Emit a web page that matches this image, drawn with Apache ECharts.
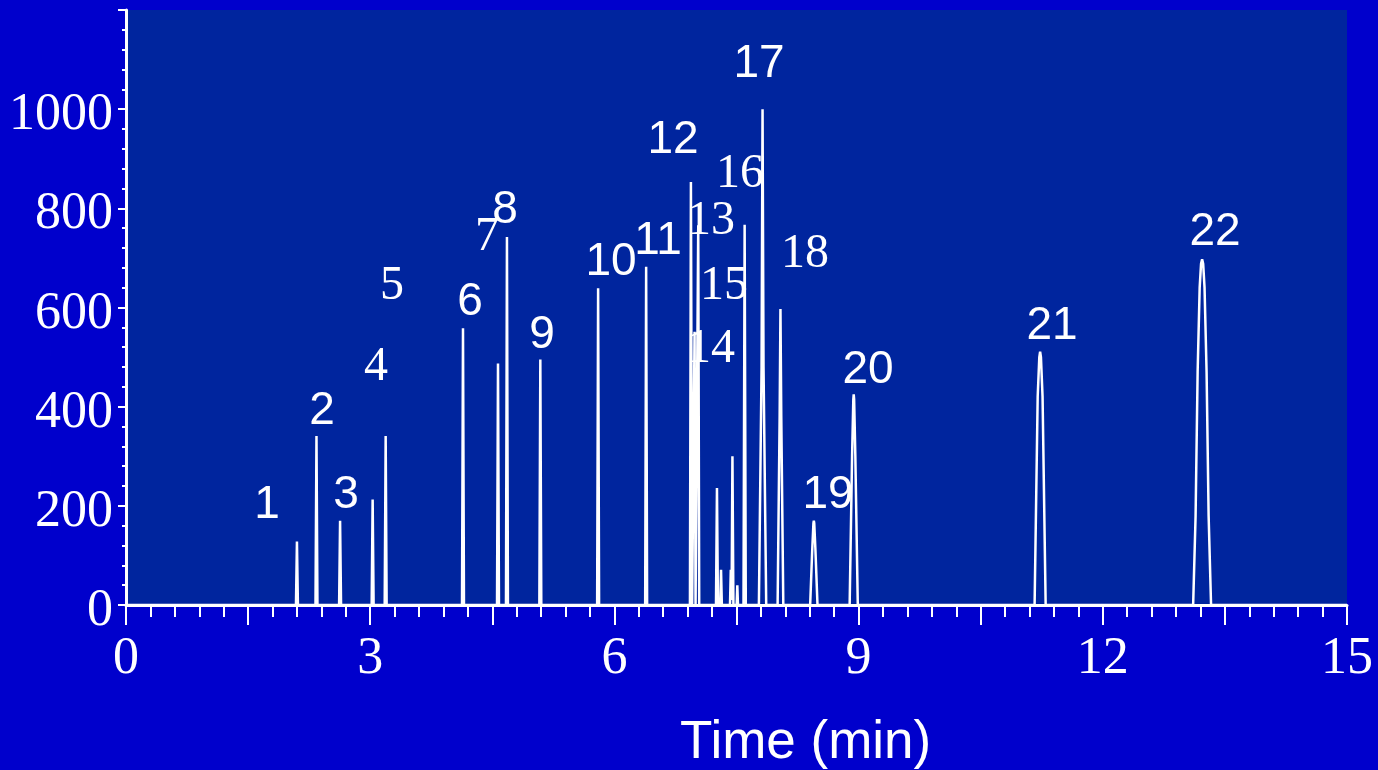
<!DOCTYPE html>
<html>
<head>
<meta charset="utf-8">
<script src="https://cdn.jsdelivr.net/npm/echarts@6/dist/echarts.min.js"></script>
<style>
  html, body { margin: 0; padding: 0; background: #0000cc; }
  #chart { width: 1378px; height: 770px; }
</style>
</head>
<body>
<div id="chart"></div>
<script>
// Chromatogram trace: [time (min), detector signal]
const trace = [
  [0, 0], [2.088, 0], [2.10, 128], [2.112, 0],
  [2.328, 0], [2.34, 341], [2.352, 0],
  [2.618, 0], [2.63, 170], [2.642, 0],
  [3.018, 0], [3.03, 213], [3.042, 0],
  [3.178, 0], [3.19, 341], [3.202, 0],
  [4.128, 0], [4.14, 558], [4.152, 0],
  [4.558, 0], [4.57, 487], [4.582, 0],
  [4.668, 0], [4.68, 742], [4.692, 0],
  [5.078, 0], [5.09, 495], [5.102, 0],
  [5.788, 0], [5.80, 639], [5.812, 0],
  [6.378, 0], [6.39, 682], [6.402, 0],
  [6.928, 0], [6.94, 853], [6.955, 0],
  [6.973, 0], [6.985, 551], [6.997, 0],
  [7.018, 0], [7.03, 766], [7.042, 0],
  [7.248, 0], [7.26, 236], [7.272, 0],
  [7.300, 0], [7.31, 71], [7.320, 0],
  [7.420, 0], [7.43, 71], [7.440, 10], [7.45, 300], [7.462, 0],
  [7.502, 0], [7.51, 40], [7.518, 0],
  [7.586, 0], [7.60, 767], [7.614, 0],
  [7.775, 0], [7.808, 480], [7.82, 1000], [7.832, 480], [7.865, 0],
  [8.005, 0], [8.030, 380], [8.04, 597], [8.050, 380], [8.075, 0],
  [8.405, 0], [8.430, 110], [8.445, 165], [8.45, 170], [8.455, 165], [8.470, 110], [8.495, 0],
  [8.890, 0], [8.920, 300], [8.935, 415], [8.94, 425], [8.945, 415], [8.960, 300], [8.990, 0],
  [11.162, 0], [11.200, 420], [11.220, 500], [11.23, 511], [11.240, 500], [11.260, 420], [11.298, 0],
  [13.110, 0], [13.140, 180], [13.165, 470], [13.190, 640], [13.207, 688], [13.22, 697],
  [13.233, 688], [13.250, 640], [13.275, 470], [13.300, 180], [13.330, 0],
  [15, 0]
];

// Peak numbers and where each one is written, in axis units
const peakNumbers = ['1', '2', '3', '4', '5', '6', '7', '8', '9', '10', '11',
                     '12', '13', '14', '15', '16', '17', '18', '19', '20', '21', '22'];
const labelTimes   = [1.732, 2.408, 2.703, 3.071, 3.268, 4.226, 4.435, 4.656, 5.111, 5.958, 6.536,
                      6.720, 7.187, 7.187, 7.346, 7.543, 7.776, 8.342, 8.624, 9.115, 11.376, 13.378];
const labelSignals = [202, 391, 222, 480, 643, 611, 742, 796, 544, 692, 734,
                      938, 774, 516, 643, 869, 1091, 708, 222, 474, 563, 752];
// Numbers typeset in a serif face
const serifNumbers = ['4', '5', '7', '13', '14', '15', '16', '18'];

// Axis ranges and ticks
const timeRange = [0, 15];
const timeStep = 1.5;
const timeLabelEvery = 3;
const signalRange = [0, 1200];
const signalStep = 200;
const signalLabelMax = 1000;

const SANS = '"Liberation Sans", Arial, sans-serif';
const SERIF = '"Liberation Serif", "Times New Roman", serif';

const labelPoints = peakNumbers.map((n, i) => {
  const serif = serifNumbers.includes(n);
  return {
    value: [labelTimes[i], labelSignals[i]],
    name: n,
    label: {
      fontFamily: serif ? SERIF : SANS,
      fontSize: serif ? 48 : 46
    }
  };
});

const chart = echarts.init(document.getElementById('chart'));
chart.setOption({
  animation: false,
  backgroundColor: '#0000cc',
  title: {
    text: 'Time (min)',
    left: 675,
    top: 712,
    textStyle: { color: '#ffffff', fontFamily: SANS, fontSize: 53, fontWeight: 'normal' }
  },
  grid: {
    left: 126, right: 31, top: 10, bottom: 165,
    show: true, backgroundColor: '#00259e', borderWidth: 0
  },
  xAxis: {
    type: 'value',
    min: timeRange[0], max: timeRange[1], interval: timeStep,
    axisLine: { show: true, onZero: false, lineStyle: { color: '#ffffff', width: 3 } },
    axisTick: { show: true, length: 20, lineStyle: { color: '#ffffff', width: 2 } },
    minorTick: { show: true, splitNumber: 5, length: 12, lineStyle: { color: '#ffffff', width: 2 } },
    splitLine: { show: false },
    axisLabel: {
      color: '#ffffff', fontFamily: SERIF, fontSize: 52, margin: 28,
      formatter: v => (Math.abs(v / timeLabelEvery - Math.round(v / timeLabelEvery)) < 1e-6 ? String(Math.round(v)) : '')
    }
  },
  yAxis: {
    type: 'value',
    min: signalRange[0], max: signalRange[1], interval: signalStep,
    axisLine: { show: true, lineStyle: { color: '#ffffff', width: 3 } },
    axisTick: { show: true, length: 8, lineStyle: { color: '#ffffff', width: 2 } },
    minorTick: { show: true, splitNumber: 5, length: 4, lineStyle: { color: '#ffffff', width: 2 } },
    splitLine: { show: false },
    axisLabel: {
      color: '#ffffff', margin: 13,
      formatter: v => (v <= signalLabelMax ? '{n|' + v + '}' : ''),
      rich: {
        n: { color: '#ffffff', fontFamily: SERIF, fontSize: 52, padding: [13, 0, 0, 0] }
      }
    }
  },
  series: [
    {
      type: 'line',
      data: trace,
      showSymbol: false,
      symbol: 'none',
      smooth: false,
      lineStyle: { color: '#ffffff', width: 2.5 },
      z: 3
    },
    {
      type: 'scatter',
      data: labelPoints,
      symbolSize: 0,
      silent: true,
      itemStyle: { color: '#ffffff', opacity: 1 },
      label: {
        show: true,
        position: 'inside',
        color: '#ffffff',
        opacity: 1,
        textBorderWidth: 0,
        textBorderColor: 'transparent',
        align: 'center',
        verticalAlign: 'middle',
        formatter: p => p.name
      },
      z: 4
    }
  ]
});
</script>
</body>
</html>
